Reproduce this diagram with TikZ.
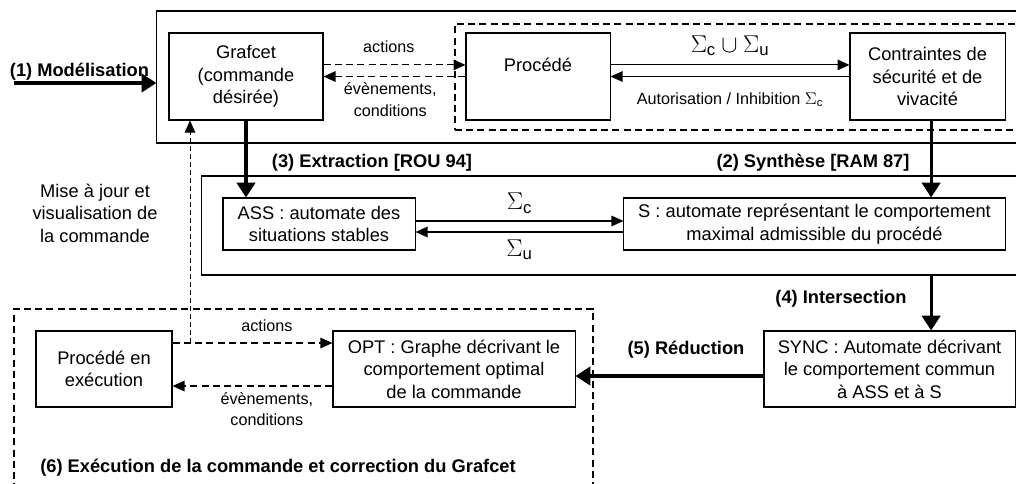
\documentclass[tikz,border=0pt]{standalone}
\usepackage{amsmath}
\usepackage{fontspec}
\setmainfont{Liberation Sans}
\usetikzlibrary{positioning,arrows.meta}

\begin{document}
\begin{tikzpicture}[x=0.025cm, y=-0.025cm,
  every node/.style={font=\fontsize{13}{16}\selectfont, align=center, inner sep=0pt},
  boite/.style={draw, line width=0.75pt},
  cadre/.style={draw, line width=0.75pt},
  cadrepointille/.style={draw, line width=0.9pt, dash pattern=on 5pt off 3pt},
  etiquette/.style={font=\fontsize{11.5}{15.5}\selectfont},
  etape/.style={font=\bfseries\fontsize{13}{16}\selectfont},
  sigma/.style={font=\fontsize{17}{20}\selectfont},
  fleche/.style={line width=0.75pt, -{Triangle[length=8.5pt,width=7.5pt]}},
  flechepointillee/.style={fleche, dash pattern=on 5pt off 3pt},
  grossefleche/.style={line width=2.3pt, -{Triangle[length=10.5pt,width=13pt]}}
]
  \useasboundingbox (0,0) rectangle (1016,483);

  % Cadres
  \node[cadre, minimum width=21.7cm, minimum height=3.3cm] (haut) at (591,77) {};
  \node[cadrepointille, minimum width=14.25cm, minimum height=2.65cm] (procfond) at (740,77) {};
  \node[cadre, minimum width=20.575cm, minimum height=2.475cm] (milieu) at (613.5,225.5) {};
  \node[cadrepointille, minimum width=14.475cm, minimum height=4.65cm] (bas) at (303.5,402) {};

  % Modelisation
  \node[boite, minimum width=3.85cm, minimum height=2.175cm] (graf) at (246,76.5)
    {Grafcet\\(commande\\désirée)};
  \node[boite, minimum width=3.6cm, minimum height=2.175cm] (proc) at (538,76.5)
    {Procédé\\\mbox{}};
  \node[boite, minimum width=3.875cm, minimum height=2.175cm] (contr) at (927.5,76.5)
    {Contraintes de\\sécurité et de\\vivacité};

  % Automates
  \node[boite, minimum width=4.8cm, minimum height=1.3cm] (ass) at (319,224)
    {ASS : automate des\\situations stables};
  \node[boite, minimum width=9.525cm, minimum height=1.3cm] (sboite) at (814.5,224)
    {S : automate représentant le comportement\\maximal admissible du procédé};

  % Execution
  \node[boite, minimum width=3.4cm, minimum height=1.9cm] (exec) at (104,369)
    {Procédé en\\exécution};
  \node[boite, minimum width=6.05cm, minimum height=1.9cm] (opt) at (454,369)
    {OPT : Graphe décrivant le\\comportement optimal\\de la commande};
  \node[boite, minimum width=6.275cm, minimum height=1.9cm] (sync) at (889.5,369)
    {SYNC : Automate décrivant\\le comportement commun\\à ASS et à S};

  % Fleches du haut
  \draw[flechepointillee] ([yshift=0.29cm]graf.east) -- ([yshift=0.29cm]graf.east -| proc.west)
    node[etiquette, pos=0.46, above=8pt] {actions};
  \draw[flechepointillee] (proc.west) -- (proc.west -| graf.east)
    node[etiquette, pos=0.53, below=4pt] {évènements,\\conditions};
  \draw[fleche] ([yshift=0.29cm]proc.east) -- ([yshift=0.29cm]proc.east -| contr.west)
    node[sigma, midway, above=6pt] {$\Sigma_{\text{c}}\cup\Sigma_{\text{u}}$};
  \draw[fleche] (contr.west) -- (contr.west -| proc.east)
    node[etiquette, midway, below=11pt] {Autorisation / Inhibition $\Sigma_{\text{c}}$};

  % Modelisation
  \coordinate (depart) at (14,83);
  \draw[grossefleche] (depart) -- (depart -| haut.west)
    node[etape, pos=0.46, above=0.5pt] {(1) Modélisation};

  % Extraction et synthese
  \draw[grossefleche] (graf.south) -- (graf.south |- ass.north);
  \draw[grossefleche] ([xshift=0.09cm]contr.south) -- ([xshift=0.09cm]contr.south |- sboite.north);
  \node[etape] (extraction) at (372,163) {(3) Extraction [ROU 94]};
  \node[etape] (synthese) at (813,163) {(2) Synthèse [RAM 87]};

  % Fleches du milieu
  \draw[fleche] ([yshift=0.075cm]ass.east) -- ([yshift=0.075cm]ass.east -| sboite.west)
    node[sigma, midway, above=5pt] {$\Sigma_{\text{c}}$};
  \draw[fleche] ([yshift=-0.2cm]sboite.west) -- ([yshift=-0.2cm]sboite.west -| ass.east)
    node[sigma, midway, below=5pt] {$\Sigma_{\text{u}}$};

  \node (majour) at (95,213) {Mise à jour et\\visualisation de\\la commande};

  % Intersection et reduction
  \draw[grossefleche] ([xshift=0.09cm]contr.south |- milieu.south) -- ([xshift=0.09cm]contr.south |- sync.north);
  \node[etape] (intersection) at (841,299) {(4) Intersection};
  \draw[grossefleche] ([yshift=-0.175cm]sync.west) -- ([yshift=-0.175cm]sync.west -| opt.east);
  \node[etape] (reduction) at (686,350) {(5) Réduction};

  % Fleches du bas
  \draw[flechepointillee] ([yshift=0.65cm]exec.east) -- ([yshift=0.65cm]exec.east -| opt.west)
    node[etiquette, pos=0.59, above=8pt] {actions};
  \draw[flechepointillee] ([yshift=-0.425cm]opt.west) -- ([yshift=-0.425cm]opt.west -| exec.east)
    node[etiquette, pos=0.41, below=4pt] {évènements,\\conditions};

  % Mise a jour du Grafcet
  \coordinate (pied) at (190,343);
  \draw[line width=0.6pt, dash pattern=on 3.5pt off 2.2pt, -{Triangle[length=8.5pt,width=7.5pt]}]
    (pied) -- (pied |- graf.south);

  \node[etape, anchor=west] (execution) at (40,468) {(6) Exécution de la commande et correction du Grafcet};
\end{tikzpicture}
\end{document}
